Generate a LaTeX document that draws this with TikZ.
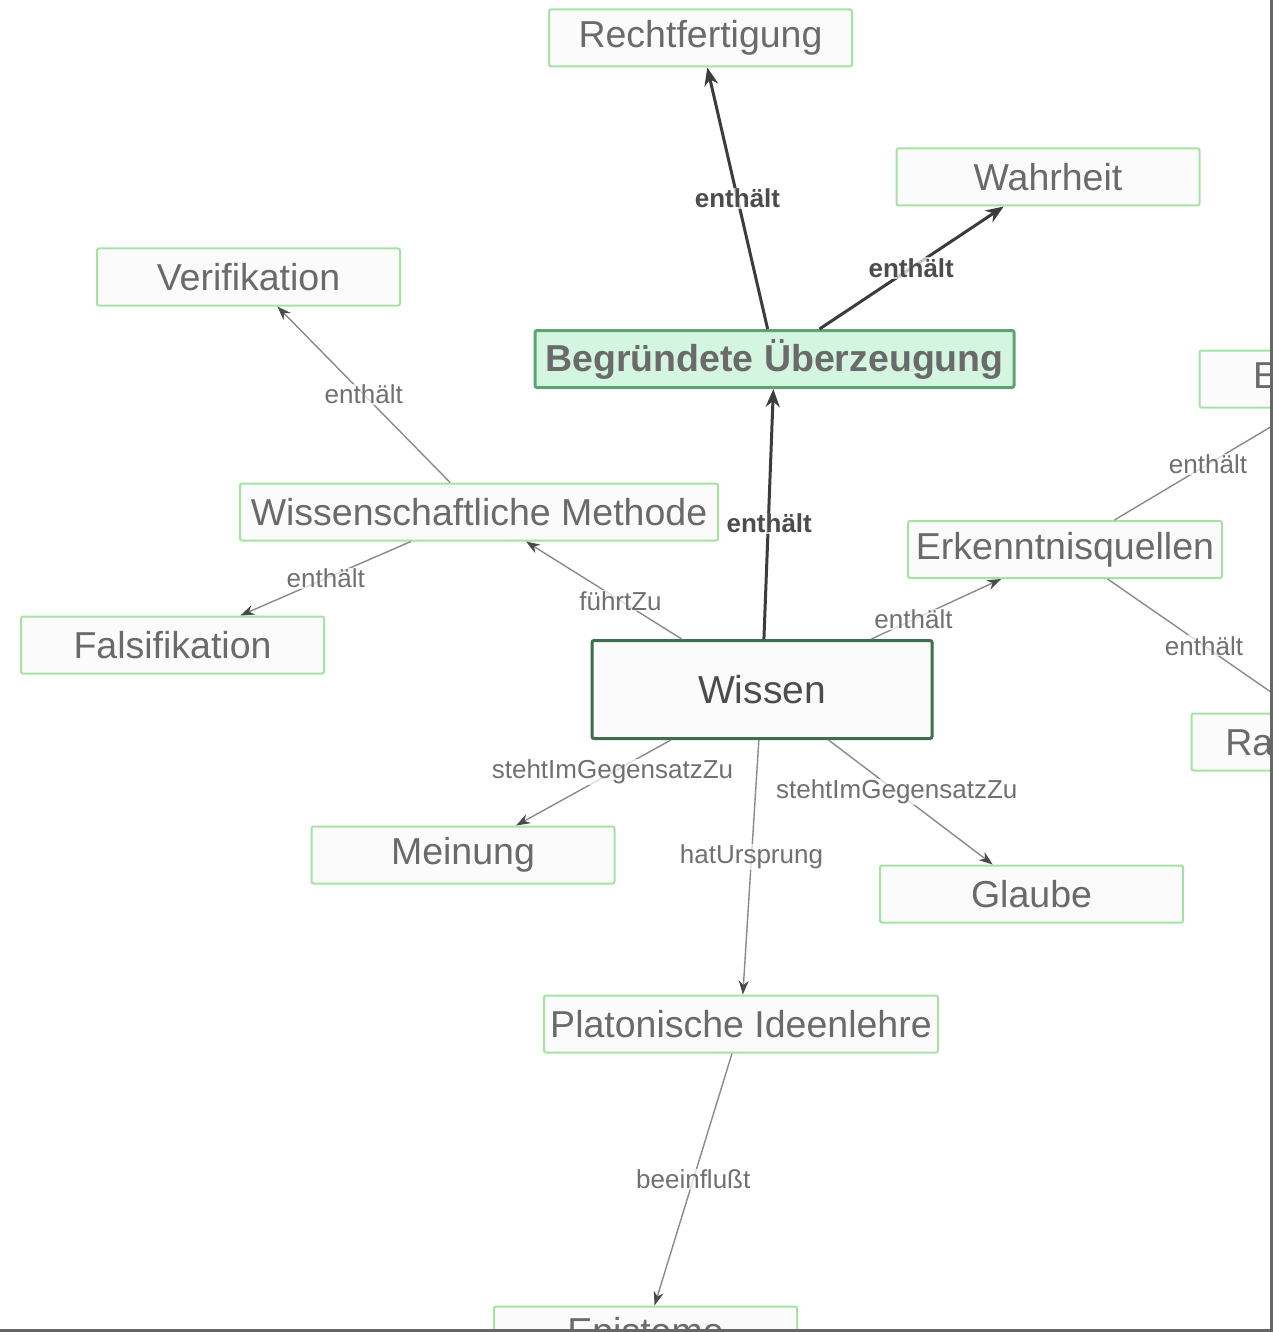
\documentclass[tikz,border=0pt]{standalone}
\usepackage{fontspec}
\setmainfont{Liberation Sans}
\usetikzlibrary{arrows.meta,calc}
\definecolor{nodegreen}{HTML}{A6E2A6}
\definecolor{nodefill}{HTML}{FBFBFB}
\definecolor{txtgray}{HTML}{6A6A6A}
\definecolor{mainborder}{HTML}{3F6E4E}
\definecolor{bufill}{HTML}{D4F6E0}
\definecolor{buborder}{HTML}{5FA370}
\definecolor{thinedge}{HTML}{8A8A8A}
\definecolor{thickedge}{HTML}{3C3C3C}
\definecolor{tipgray}{HTML}{4A4A4A}
\definecolor{lbltxt}{HTML}{707070}
\definecolor{frameg}{HTML}{666666}
\tikzset{
  box/.style={draw=nodegreen, line width=2pt, fill=nodefill, text=txtgray,
    font=\fontsize{37.5}{40}\selectfont, minimum height=57pt, minimum width=303pt,
    inner sep=0pt, rounded corners=2pt},
  mainbox/.style={box, draw=mainborder, line width=3pt, text=black!70,
    font=\fontsize{39}{42}\selectfont, minimum width=340pt, minimum height=98pt},
  bubox/.style={box, draw=buborder, line width=3pt, fill=bufill,
    font=\bfseries\fontsize{37.5}{40}\selectfont, minimum width=479pt},
  thinarrow/.style={draw=thinedge, line width=1.4pt, -{Stealth[length=14pt,width=10pt,color=tipgray]}},
  thickarrow/.style={draw=thickedge, line width=3pt, -{Stealth[length=18pt,width=14pt]}},
  lbl/.style={fill=white, fill opacity=0.7, text opacity=1, inner sep=1pt, text=lbltxt,
    font=\fontsize{26}{28}\selectfont},
  boldlbl/.style={lbl, text=black!70, font=\bfseries\fontsize{26}{28}\selectfont}
}
\begin{document}
\begin{tikzpicture}[x=1pt,y=-1pt]
\useasboundingbox (0,0) rectangle (1273,1332);
\fill[white] (0,0) rectangle (1273,1332);
\begin{scope}
\clip (0,0) rectangle (1270,1329);
% nodes
\node[box] (recht) at (700.5,38) {Rechtfertigung};
\node[box] (wahr) at (1048,177) {Wahrheit};
\node[box] (veri) at (248.5,277) {Verifikation};
\node[bubox] (bu) at (774.5,359) {Begründete Überzeugung};
\node[box] (empi) at (1351,379) {Empirismus};
\node[box, minimum width=478pt] (wm) at (479,512) {Wissenschaftliche Methode};
\node[box, minimum width=314pt] (erk) at (1065,549.5) {Erkenntnisquellen};
\node[box] (fals) at (172.5,645) {Falsifikation};
\node[mainbox] (wissen) at (762,689.5) {Wissen};
\node[box] (ratio) at (1343,742) {Rationalismus};
\node[box] (mein) at (463,855) {Meinung};
\node[box] (glaube) at (1031.5,894) {Glaube};
\node[box, minimum width=394pt] (plato) at (741,1024) {Platonische Ideenlehre};
\node[box] (epis) at (645.5,1335) {Episteme};
% connectors
\draw[thickarrow] (wissen) -- (bu);
\draw[thickarrow] (bu) -- (recht);
\draw[thickarrow] (bu) -- (wahr);
\draw[thinarrow] (wissen) -- (wm);
\draw[thinarrow] (wm) -- (veri);
\draw[thinarrow] (wm) -- (fals);
\draw[thinarrow] (wissen) -- (erk);
\draw[thinarrow] (erk) -- (empi);
\draw[thinarrow] (erk) -- (ratio);
\draw[thinarrow] (wissen) -- (mein);
\draw[thinarrow] (wissen) -- (glaube);
\draw[thinarrow] (wissen) -- (plato);
\draw[thinarrow] (plato) -- (epis);
% labels
\node[boldlbl] (l1) at ($(wissen)!0.5!(bu)+(1,-1)$) {enthält};
\node[boldlbl] (l2) at ($(bu)!0.5!(recht)$) {enthält};
\node[boldlbl] (l3) at ($(bu)!0.5!(wahr)$) {enthält};
\node[lbl] (l4) at ($(wissen)!0.5!(wm)$) {führtZu};
\node[lbl] (l5) at ($(wm)!0.5!(veri)$) {enthält};
\node[lbl] (l6) at ($(wm)!0.5!(fals)$) {enthält};
\node[lbl] (l7) at ($(wissen)!0.5!(erk)$) {enthält};
\node[lbl] (l8) at ($(erk)!0.5!(empi)$) {enthält};
\node[lbl] (l9) at ($(erk)!0.5!(ratio)$) {enthält};
\node[lbl] (l10) at ($(wissen)!0.5!(mein)$) {stehtImGegensatzZu};
\node[lbl] (l11) at ($(wissen)!0.5!(glaube)$) {stehtImGegensatzZu};
\node[lbl] (l12) at ($(wissen)!0.5!(plato)$) {hatUrsprung};
\node[lbl] (l13) at ($(plato)!0.5!(epis)$) {beeinflußt};
\end{scope}
\fill[frameg] (1270,0) rectangle (1273,1332);
\fill[frameg] (0,1329) rectangle (1273,1332);
\end{tikzpicture}
\end{document}
